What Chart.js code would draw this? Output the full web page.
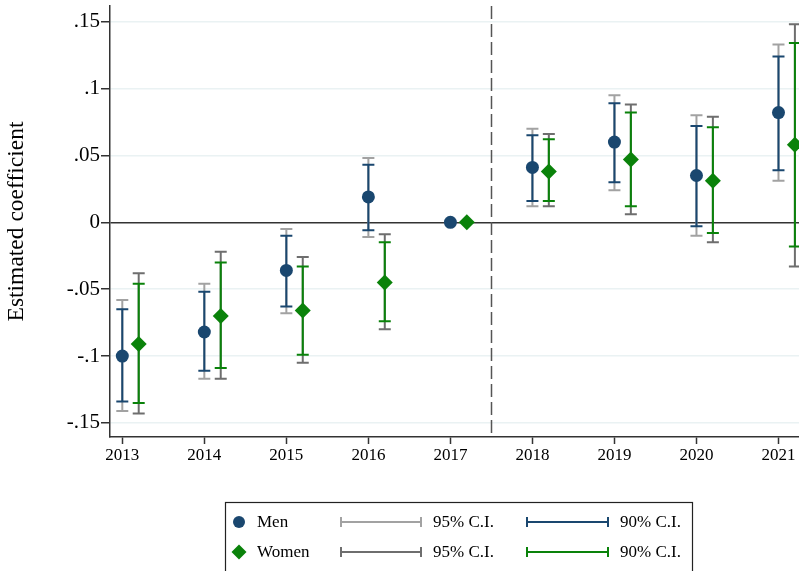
<!DOCTYPE html>
<html>
<head>
<meta charset="utf-8">
<script src="https://cdn.jsdelivr.net/npm/chart.js@4.4.1/dist/chart.umd.min.js"></script>
<style>
  body { margin: 0; background: #fff; }
  canvas { display: block; }
</style>
</head>
<body>
<canvas id="myChart" width="799" height="571"></canvas>
<script>
//static data
let years = [2013, 2014, 2015, 2016, 2017, 2018, 2019, 2020, 2021];

let menCoef  = [-0.100, -0.082, -0.036,  0.019, 0, 0.041, 0.060,  0.035, 0.082];
let menLo90  = [-0.134, -0.111, -0.063, -0.006, 0, 0.016, 0.030, -0.003, 0.039];
let menHi90  = [-0.065, -0.052, -0.010,  0.043, 0, 0.065, 0.089,  0.072, 0.124];
let menLo95  = [-0.141, -0.117, -0.068, -0.011, 0, 0.012, 0.024, -0.010, 0.031];
let menHi95  = [-0.058, -0.046, -0.005,  0.048, 0, 0.070, 0.095,  0.080, 0.133];

let womenCoef = [-0.091, -0.070, -0.066, -0.045, 0, 0.038, 0.047,  0.031,  0.058];
let womenLo90 = [-0.135, -0.109, -0.099, -0.074, 0, 0.016, 0.012, -0.008, -0.018];
let womenHi90 = [-0.046, -0.030, -0.033, -0.015, 0, 0.062, 0.082,  0.071,  0.134];
let womenLo95 = [-0.143, -0.117, -0.105, -0.080, 0, 0.012, 0.006, -0.015, -0.033];
let womenHi95 = [-0.038, -0.022, -0.026, -0.009, 0, 0.066, 0.088,  0.079,  0.148];

let yTickValues = [-0.15, -0.1, -0.05, 0, 0.05, 0.1, 0.15];
let yTickLabels = ['-.15', '-.1', '-.05', '0', '.05', '.1', '.15'];

let refYear = 2017.5;
let womenShift = 0.2;

//colours
const navy = '#1a476f';
const green = '#0a820a';
const grayMen = '#a2a2a2';
const grayWomen = '#6e6e6e';
const serif = 'Liberation Serif';

//confidence intervals + dashed reference line, drawn under the markers
const ciPlugin = {
    id: 'ciBars',
    beforeDatasetsDraw(chart) {
        const {ctx, chartArea, scales: {x, y}} = chart;

        ctx.save();
        ctx.strokeStyle = '#555';
        ctx.lineWidth = 1.5;
        ctx.setLineDash([13, 5]);
        let xr = Math.round(x.getPixelForValue(refYear)) + 0.5;
        ctx.beginPath();
        ctx.moveTo(xr, chartArea.top);
        ctx.lineTo(xr, chartArea.bottom);
        ctx.stroke();
        ctx.restore();

        function bars(lo, hi, shift, color) {
            ctx.save();
            ctx.strokeStyle = color;
            ctx.lineWidth = 2;
            for (let i = 0; i < years.length; i++) {
                if (lo[i] === hi[i]) continue;
                let xp = x.getPixelForValue(years[i] + shift);
                let y1 = y.getPixelForValue(lo[i]);
                let y2 = y.getPixelForValue(hi[i]);
                ctx.beginPath();
                ctx.moveTo(xp, y1); ctx.lineTo(xp, y2);
                ctx.moveTo(xp - 6, y1); ctx.lineTo(xp + 6, y1);
                ctx.moveTo(xp - 6, y2); ctx.lineTo(xp + 6, y2);
                ctx.stroke();
            }
            ctx.restore();
        }
        bars(menLo95, menHi95, 0, grayMen);
        bars(menLo90, menHi90, 0, navy);
        bars(womenLo95, womenHi95, womenShift, grayWomen);
        bars(womenLo90, womenHi90, womenShift, green);
    }
};

//legend box under the plot
const legendPlugin = {
    id: 'ciLegend',
    afterDraw(chart) {
        const ctx = chart.ctx;
        const left = 225, top = 502;
        ctx.save();
        ctx.strokeStyle = '#222';
        ctx.lineWidth = 1.2;
        ctx.strokeRect(left + 0.5, top + 0.5, 467, 80);

        ctx.font = '17px "' + serif + '"';
        ctx.fillStyle = '#000';
        ctx.textBaseline = 'middle';

        function ciSymbol(x0, x1, yy, color) {
            ctx.strokeStyle = color;
            ctx.lineWidth = 2;
            ctx.beginPath();
            ctx.moveTo(x0, yy); ctx.lineTo(x1, yy);
            ctx.moveTo(x0, yy - 5); ctx.lineTo(x0, yy + 5);
            ctx.moveTo(x1, yy - 5); ctx.lineTo(x1, yy + 5);
            ctx.stroke();
        }

        let rows = [
            {y: 522, label: 'Men', style: 'circle', color: navy, c95: grayMen, c90: navy},
            {y: 552, label: 'Women', style: 'rectRot', color: green, c95: grayWomen, c90: green}
        ];
        rows.forEach(r => {
            ctx.fillStyle = r.color;
            Chart.helpers.drawPoint(ctx, {pointStyle: r.style, radius: r.style === 'circle' ? 6 : 7.5, borderWidth: 0}, left + 14, r.y);
            ctx.fillStyle = '#000';
            ctx.fillText(r.label, left + 32, r.y + 1);
            ciSymbol(left + 116, left + 196, r.y, r.c95);
            ctx.fillStyle = '#000';
            ctx.fillText('95% C.I.', left + 208, r.y + 1);
            ciSymbol(left + 302, left + 383, r.y, r.c90);
            ctx.fillStyle = '#000';
            ctx.fillText('90% C.I.', left + 395, r.y + 1);
        });
        ctx.restore();
    }
};

const ctx = document.getElementById('myChart').getContext('2d');
const myChart = new Chart(ctx, {
    type: 'scatter',
    data: {
        datasets: [{
            label: 'Men',
            data: years.map((yr, i) => ({x: yr, y: menCoef[i]})),
            backgroundColor: navy,
            pointStyle: 'circle',
            pointRadius: 6.5,
            borderWidth: 0
        }, {
            label: 'Women',
            data: years.map((yr, i) => ({x: yr + womenShift, y: womenCoef[i]})),
            backgroundColor: green,
            pointStyle: 'rectRot',
            pointRadius: 8,
            borderWidth: 0
        }]
    },
    plugins: [ciPlugin, legendPlugin],
    options: {
        responsive: false,
        animation: false,
        devicePixelRatio: 1,
        layout: {
            autoPadding: false,
            padding: {top: 6, bottom: 104, left: 0, right: 0}
        },
        plugins: {
            legend: {display: false},
            tooltip: {enabled: false}
        },
        scales: {
            x: {
                type: 'linear',
                min: 2012.85,
                max: 2021.25,
                afterBuildTicks: s => { s.ticks = years.map(v => ({value: v})); },
                afterFit: s => { s.height = 30; s.paddingLeft = 0; s.paddingRight = 0; },
                ticks: {
                    callback: v => String(v),
                    color: '#000',
                    font: {family: serif, size: 17},
                    padding: 1,
                    maxRotation: 0
                },
                grid: {
                    drawOnChartArea: false,
                    tickLength: 7,
                    tickColor: '#333',
                    tickWidth: 1.5
                },
                border: {color: '#333', width: 1.5}
            },
            y: {
                min: -0.1605,
                max: 0.1617,
                afterBuildTicks: s => { s.ticks = yTickValues.map(v => ({value: v})); },
                afterFit: s => { s.width = 110; s.paddingTop = 0; s.paddingBottom = 0; },
                ticks: {
                    callback: v => yTickLabels[yTickValues.indexOf(v)],
                    color: '#000',
                    font: {family: serif, size: 21},
                    padding: 1
                },
                grid: {
                    color: c => (c.tick && c.tick.value === 0) ? '#333' : '#eaf2f3',
                    lineWidth: 1.5,
                    tickLength: 9,
                    tickColor: '#333',
                    tickWidth: 1.5
                },
                border: {color: '#333', width: 1.5},
                title: {
                    display: true,
                    text: 'Estimated coefficient',
                    color: '#000',
                    font: {family: serif, size: 23.5},
                    padding: {top: 3, bottom: 0}
                }
            }
        }
    }
});
</script>
</body>
</html>
